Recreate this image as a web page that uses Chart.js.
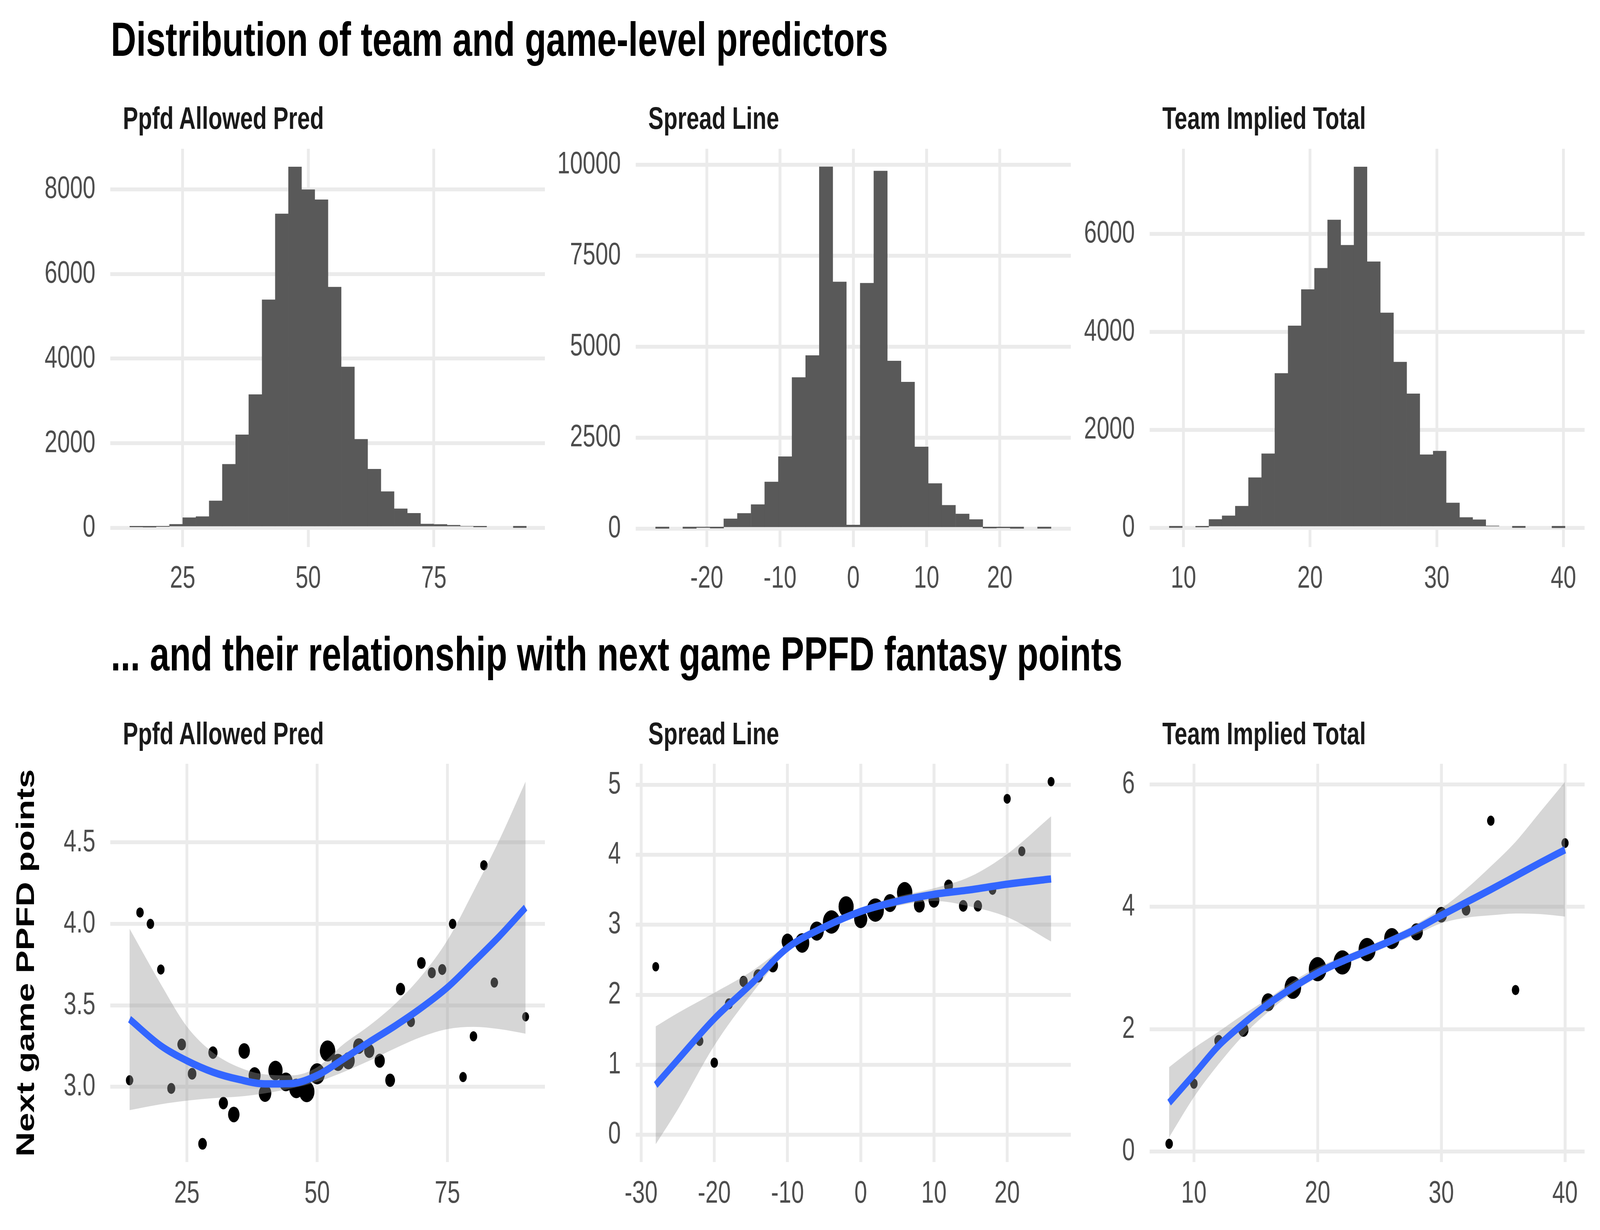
<!DOCTYPE html>
<html lang="en">
<head>
<meta charset="utf-8">
<title>Distribution of team and game-level predictors</title>
<script src="https://cdn.jsdelivr.net/npm/chart.js@4.4.1/dist/chart.umd.min.js"></script>
<style>
  html, body { margin: 0; padding: 0; background: #ffffff; overflow: hidden; }
  #page {
    position: absolute; left: 0; top: 0; width: 5600px; height: 3150px; transform-origin: 0 0;
    font-family: "Liberation Sans", Arial, Helvetica, sans-serif; background: #ffffff;
  }
  .title { position: absolute; left: 388px; font-size: 123px; font-weight: bold; line-height: 1; color: #000; white-space: nowrap; }
  .strip { position: absolute; font-size: 80px; font-weight: bold; line-height: 1; color: #1a1a1a; white-space: nowrap; }
  .ytitle {
    position: absolute; left: 89px; top: 2466px; font-size: 88px; font-weight: bold; line-height: 1;
    color: #000; white-space: nowrap; transform: translate(-50%, -50%) rotate(-90deg);
  }
  .panel { position: absolute; }
</style>
</head>
<body>
<div id="page">
<div class="title" style="top:39px">Distribution of team and game-level predictors</div>
<div class="title" style="top:1613px">... and their relationship with next game PPFD fantasy points</div>

<div class="strip" style="left:430px; top:263px">Ppfd Allowed Pred</div>
<div class="strip" style="left:2269px; top:263px">Spread Line</div>
<div class="strip" style="left:4068px; top:263px">Team Implied Total</div>
<div class="strip" style="left:430px; top:1839px">Ppfd Allowed Pred</div>
<div class="strip" style="left:2269px; top:1839px">Spread Line</div>
<div class="strip" style="left:4068px; top:1839px">Team Implied Total</div>

<div class="ytitle">Next game PPFD points</div>

<div class="panel" id="p1"><canvas id="c1"></canvas></div>
<div class="panel" id="p2"><canvas id="c2"></canvas></div>
<div class="panel" id="p3"><canvas id="c3"></canvas></div>
<div class="panel" id="p4"><canvas id="c4"></canvas></div>
<div class="panel" id="p5"><canvas id="c5"></canvas></div>
<div class="panel" id="p6"><canvas id="c6"></canvas></div>
</div>

<script>
// ---------- histograms (top row) ----------
const ppfdHistBins = [15.79, 18.42, 21.05, 23.68, 26.32, 28.95, 31.58, 34.21, 36.84, 39.47,
                      42.11, 44.74, 47.37, 50.00, 52.63, 55.26, 57.89, 60.53, 63.16, 65.79,
                      68.42, 71.05, 73.68, 76.32, 78.95, 81.58, 84.21, 86.84, 89.47, 92.11];
const ppfdHistCounts = [25, 20, 35, 90, 247, 273, 643, 1507, 2203, 3154,
                        5392, 7419, 8529, 7991, 7753, 5692, 3806, 2097, 1392, 863,
                        458, 352, 97, 88, 70, 44, 26, 0, 0, 10];

const spreadHistBins = [-26.07, -24.21, -22.34, -20.48, -18.62, -16.76, -14.90, -13.03, -11.17, -9.31,
                        -7.45, -5.59, -3.72, -1.86, 0, 1.86, 3.72, 5.59, 7.45, 9.31,
                        11.17, 13.03, 14.90, 16.76, 18.62, 20.48, 22.34, 24.21, 26.07];
const spreadHistCounts = [10, 0, 10, 35, 18, 276, 427, 668, 1291, 1986,
                          4159, 4764, 9947, 6785, 107, 6750, 9831, 4613, 4034, 2253,
                          1247, 650, 410, 258, 18, 27, 9, 0, 9];

const totalHistBins = [9.40, 10.44, 11.48, 12.53, 13.57, 14.61, 15.65, 16.69, 17.73, 18.78,
                       19.82, 20.86, 21.90, 22.94, 23.98, 25.03, 26.07, 27.11, 28.15, 29.19,
                       30.23, 31.28, 32.32, 33.36, 34.40, 35.44, 36.48, 37.53, 38.57, 39.61];
const totalHistCounts = [7, 0, 20, 178, 251, 449, 1030, 1518, 3155, 4125,
                         4865, 5300, 6284, 5769, 7366, 5432, 4389, 3386, 2739, 1498,
                         1571, 515, 218, 172, 46, 0, 7, 0, 0, 4];

// ---------- binned means + smooth (bottom row) ----------
const ppfdX = [14, 16, 18, 20, 22, 24, 26, 28, 30, 32, 34, 36, 38, 40, 42, 44, 46, 48, 50,
               52, 54, 56, 58, 60, 62, 64, 66, 68, 70, 72, 74, 76, 78, 80, 82, 84, 90];
const ppfdY = [3.04, 4.07, 4.00, 3.72, 2.99, 3.26, 3.08, 2.65, 3.21, 2.90, 2.83, 3.22, 3.07, 2.96, 3.10, 3.03, 2.99, 2.97, 3.08,
               3.22, 3.15, 3.16, 3.25, 3.22, 3.16, 3.04, 3.60, 3.40, 3.76, 3.70, 3.72, 4.00, 3.06, 3.31, 4.36, 3.64, 3.43];
const ppfdSize = [13, 13, 13, 13, 14, 15, 15, 15, 16, 16, 20, 20, 21, 22, 25, 24, 25, 27, 27,
                  27, 22, 22, 20, 18, 18, 17, 16, 14, 15, 14, 14, 13, 13, 13, 13, 13, 12];
const ppfdSmoothX = [14, 20, 25, 30, 35, 40, 45, 50, 55, 60, 65, 70, 75, 80, 85, 90];
const ppfdSmoothY = [3.415, 3.252, 3.16, 3.09, 3.045, 3.018, 3.02, 3.07, 3.17, 3.275, 3.375, 3.485, 3.61, 3.765, 3.925, 4.10];
const ppfdUpper   = [3.97, 3.63, 3.37, 3.21, 3.12, 3.076, 3.07, 3.12, 3.26, 3.375, 3.51, 3.68, 3.90, 4.20, 4.518, 4.874];
const ppfdLower   = [2.857, 2.893, 2.915, 2.93, 2.94, 2.96, 2.99, 3.03, 3.09, 3.16, 3.237, 3.306, 3.354, 3.368, 3.354, 3.326];

const spreadX = [-28, -22, -20, -18, -16, -14, -12, -10, -8, -6, -4, -2, 0,
                 2, 4, 6, 8, 10, 12, 14, 16, 18, 20, 22, 26];
const spreadY = [2.40, 1.34, 1.03, 1.87, 2.19, 2.27, 2.42, 2.76, 2.74, 2.91, 3.04, 3.26, 3.08,
                 3.21, 3.31, 3.46, 3.28, 3.35, 3.56, 3.27, 3.27, 3.50, 4.80, 4.05, 5.045];
const spreadSize = [12, 13, 13, 14, 14.5, 17, 18, 20.5, 25, 24.5, 30, 26.5, 23,
                    30, 23, 27, 19, 19, 15.5, 15, 14.5, 13, 12.5, 12.5, 12];
const spreadSmoothX = [-28, -25, -20, -15, -10, -5, 0, 5, 10, 15, 20, 26];
const spreadSmoothY = [0.711, 1.07, 1.657, 2.15, 2.67, 2.966, 3.19, 3.335, 3.435, 3.50, 3.58, 3.655];
const spreadUpper   = [1.548, 1.738, 2.027, 2.329, 2.711, 3.01, 3.24, 3.40, 3.52, 3.69, 4.01, 4.55];
const spreadLower   = [-0.135, 0.359, 1.274, 2.0, 2.62, 2.91, 3.14, 3.27, 3.34, 3.26, 3.11, 2.76];

const totalX = [8, 10, 12, 14, 16, 18, 20, 22, 24, 26, 28, 30, 32, 34, 36, 40];
const totalY = [0.128, 1.11, 1.81, 1.99, 2.44, 2.68, 2.98, 3.09, 3.30, 3.48, 3.59, 3.87, 3.95, 5.405, 2.64, 5.04];
const totalSize = [13, 13, 15, 18, 23, 29, 31, 31, 30, 27, 22, 20, 15, 13, 13, 12.5];
const totalSmoothX = [8, 10, 12, 14, 16, 18, 20, 22, 24, 26, 28, 30, 32, 34, 36, 38, 40];
const totalSmoothY = [0.80, 1.26, 1.73, 2.09, 2.41, 2.68, 2.92, 3.11, 3.28, 3.45, 3.64, 3.86, 4.07, 4.28, 4.50, 4.72, 4.93];
const totalUpper   = [1.38, 1.69, 1.96, 2.24, 2.50, 2.78, 3.01, 3.18, 3.35, 3.52, 3.72, 3.97, 4.29, 4.66, 5.06, 5.55, 6.04];
const totalLower   = [0.235, 0.89, 1.43, 1.90, 2.28, 2.60, 2.85, 3.05, 3.21, 3.38, 3.55, 3.73, 3.82, 3.86, 3.89, 3.88, 3.84];

// ---------- ticks ----------
const ppfdXTicks = [25, 50, 75];
const ppfdXLabels = ['25', '50', '75'];
const spreadHistXTicks = [-20, -10, 0, 10, 20];
const spreadHistXLabels = ['-20', '-10', '0', '10', '20'];
const spreadXTicks = [-30, -20, -10, 0, 10, 20];
const spreadXLabels = ['-30', '-20', '-10', '0', '10', '20'];
const totalXTicks = [10, 20, 30, 40];
const totalXLabels = ['10', '20', '30', '40'];

const ppfdHistYTicks = [0, 2000, 4000, 6000, 8000];
const ppfdHistYLabels = ['0', '2000', '4000', '6000', '8000'];
const spreadHistYTicks = [0, 2500, 5000, 7500, 10000];
const spreadHistYLabels = ['0', '2500', '5000', '7500', '10000'];
const totalHistYTicks = [0, 2000, 4000, 6000];
const totalHistYLabels = ['0', '2000', '4000', '6000'];

const ppfdYTicks = [3.0, 3.5, 4.0, 4.5];
const ppfdYLabels = ['3.0', '3.5', '4.0', '4.5'];
const spreadYTicks = [0, 1, 2, 3, 4, 5];
const spreadYLabels = ['0', '1', '2', '3', '4', '5'];
const totalYTicks = [0, 2, 4, 6];
const totalYLabels = ['0', '2', '4', '6'];

// ---------- layout ----------
const COLS = [[386, 1907], [2225, 3748], [4024, 5546]];
const ROWS = [[381, 1401], [1956, 2976]];
const Y_AXIS_W = 300, X_AXIS_H = 160, PAD_T = 120, PAD_R = 140;

// the page is laid out in 5600x3150 units and stretched over the real viewport
const SX = window.innerWidth / 5600;
const SY = window.innerHeight / 3150;
document.getElementById('page').style.transform = 'scale(' + SX + ',' + SY + ')';
const DPR = (window.devicePixelRatio || 1) * Math.max(SX, SY);

Chart.defaults.font.family = '"Liberation Sans", Arial, Helvetica, sans-serif';
Chart.defaults.animation = false;

function place(id, col, row) {
  const el = document.getElementById(id);
  const [l, r] = COLS[col];
  const [t, b] = ROWS[row];
  el.style.left = (l - Y_AXIS_W) + 'px';
  el.style.top = (t - PAD_T) + 'px';
  el.style.width = (r - l + Y_AXIS_W + PAD_R) + 'px';
  el.style.height = (b - t + PAD_T + X_AXIS_H) + 'px';
  return el.querySelector('canvas');
}

function axis(range, ticks, labels, isX) {
  return {
    type: 'linear', min: range[0], max: range[1], offset: false,
    grid: { color: '#ebebeb', lineWidth: 10, drawTicks: false, offset: false },
    border: { display: false },
    ticks: {
      color: '#4d4d4d', font: { size: 80 }, padding: isX ? 34 : 52,
      maxRotation: 0, autoSkip: false,
      callback: (v, i) => labels[i]
    },
    afterBuildTicks: s => { s.ticks = ticks.map(v => ({ value: v })); },
    afterFit: s => { if (isX) s.height = X_AXIS_H; else s.width = Y_AXIS_W; }
  };
}

function baseOptions(xAxis, yAxis) {
  return {
    responsive: true, maintainAspectRatio: false, animation: false,
    devicePixelRatio: DPR,
    layout: { padding: { top: PAD_T, right: PAD_R, left: 0, bottom: 0 } },
    plugins: { legend: { display: false }, tooltip: { enabled: false } },
    scales: { x: xAxis, y: yAxis }
  };
}

function histogram(id, col, bins, counts, xr, xt, xl, yr, yt, yl) {
  const pts = bins.map((x, i) => ({ x: x, y: counts[i] })).filter(p => p.y > 0);
  new Chart(place(id, col, 0), {
    type: 'bar',
    data: {
      datasets: [{
        data: pts, backgroundColor: '#595959', borderWidth: 0,
        barPercentage: 1, categoryPercentage: 1
      }]
    },
    options: baseOptions(axis(xr, xt, xl, true), axis(yr, yt, yl, false))
  });
}

function smoothPanel(id, col, xs, ys, sizes, sx, sy, up, lo, xr, xt, xl, yr, yt, yl) {
  const xy = (a, b) => a.map((x, i) => ({ x: x, y: b[i] }));
  new Chart(place(id, col, 1), {
    type: 'scatter',
    data: {
      datasets: [
        { type: 'scatter', data: xy(xs, ys), pointRadius: sizes, pointHoverRadius: sizes,
          pointBackgroundColor: '#000000', pointBorderWidth: 0, order: 3 },
        { type: 'line', data: xy(sx, up), borderColor: 'rgba(0,0,0,0)', borderWidth: 0, pointRadius: 0,
          fill: '+1', backgroundColor: 'rgba(153,153,153,0.4)', cubicInterpolationMode: 'monotone', order: 2 },
        { type: 'line', data: xy(sx, lo), borderColor: 'rgba(0,0,0,0)', borderWidth: 0, pointRadius: 0,
          fill: false, cubicInterpolationMode: 'monotone', order: 2 },
        { type: 'line', data: xy(sx, sy), borderColor: '#3366ff', borderWidth: 19, pointRadius: 0,
          fill: false, cubicInterpolationMode: 'monotone', order: 1 }
      ]
    },
    options: baseOptions(axis(xr, xt, xl, true), axis(yr, yt, yl, false))
  });
}

// top row
histogram('p1', 0, ppfdHistBins, ppfdHistCounts, [10.6, 97.1], ppfdXTicks, ppfdXLabels,
          [-448, 8955], ppfdHistYTicks, ppfdHistYLabels);
histogram('p2', 1, spreadHistBins, spreadHistCounts, [-29.7, 29.7], spreadHistXTicks, spreadHistXLabels,
          [-500, 10440], spreadHistYTicks, spreadHistYLabels);
histogram('p3', 2, totalHistBins, totalHistCounts, [7.34, 41.67], totalXTicks, totalXLabels,
          [-387, 7734], totalHistYTicks, totalHistYLabels);

// bottom row
smoothPanel('p4', 0, ppfdX, ppfdY, ppfdSize, ppfdSmoothX, ppfdSmoothY, ppfdUpper, ppfdLower,
            [10.3, 93.7], ppfdXTicks, ppfdXLabels, [2.538, 4.983], ppfdYTicks, ppfdYLabels);
smoothPanel('p5', 1, spreadX, spreadY, spreadSize, spreadSmoothX, spreadSmoothY, spreadUpper, spreadLower,
            [-30.73, 28.7], spreadXTicks, spreadXLabels, [-0.39, 5.30], spreadYTicks, spreadYLabels);
smoothPanel('p6', 2, totalX, totalY, totalSize, totalSmoothX, totalSmoothY, totalUpper, totalLower,
            [6.43, 41.58], totalXTicks, totalXLabels, [-0.17, 6.335], totalYTicks, totalYLabels);
</script>
</body>
</html>
